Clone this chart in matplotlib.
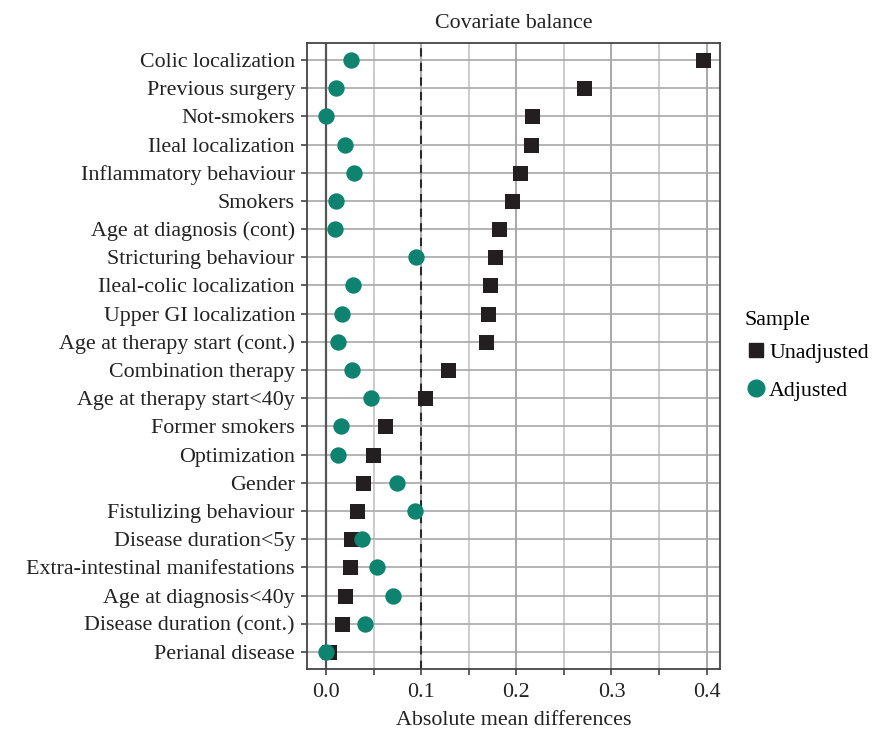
import matplotlib
matplotlib.use("Agg")
import matplotlib.pyplot as plt
import numpy as np
from matplotlib.lines import Line2D

covariates = [
    "Colic localization", "Previous surgery", "Not-smokers", "Ileal localization",
    "Inflammatory behaviour", "Smokers", "Age at diagnosis (cont)", "Stricturing behaviour",
    "Ileal-colic localization", "Upper GI localization", "Age at therapy start (cont.)",
    "Combination therapy", "Age at therapy start<40y", "Former smokers", "Optimization",
    "Gender", "Fistulizing behaviour", "Disease duration<5y",
    "Extra-intestinal manifestations", "Age at diagnosis<40y", "Disease duration (cont.)",
    "Perianal disease",
]
unadjusted = [0.396, 0.271, 0.217, 0.215, 0.204, 0.195, 0.182, 0.178, 0.172, 0.170,
              0.168, 0.128, 0.104, 0.062, 0.049, 0.0385, 0.033, 0.026, 0.025, 0.0196,
              0.0165, 0.0035]
adjusted = [0.026, 0.011, 0.0, 0.020, 0.029, 0.011, 0.010, 0.0945, 0.0287, 0.0168,
            0.0123, 0.0277, 0.0476, 0.0161, 0.0126, 0.075, 0.094, 0.0375, 0.054, 0.070,
            0.041, 0.0]
major_ticks = [0.0, 0.1, 0.2, 0.3, 0.4]
tick_labels = ["0.0", "0.1", "0.2", "0.3", "0.4"]
threshold = 0.1

plt.rcParams['font.family'] = ['Liberation Serif', 'DejaVu Serif']
FS = 15.8
TXT = "#222222"

fig = plt.figure(figsize=(8.72, 7.30), dpi=100)
ax = fig.add_axes([0.3526, 0.0836, 0.8257 - 0.3526, 0.9411 - 0.0836])

n = len(covariates)
ypos = np.arange(n)[::-1]

sq_col = "#231f20"
ci_col = "#0e8470"

# grid
minor = np.arange(0.05, 0.45, 0.1)
for x in minor:
    ax.axvline(x, color="#c4c4c4", lw=1.2, zorder=0)
for x in major_ticks[1:]:
    ax.axvline(x, color="#9a9a9a", lw=1.2, zorder=0)
for y in ypos:
    ax.axhline(y, color="#a8a8a8", lw=1.2, zorder=0)
ax.axvline(0, color="#555555", lw=1.6, zorder=1)
ax.axvline(threshold, color="#2a2a2a", lw=1.5, ls=(0, (4, 3)), zorder=1)

ax.scatter(unadjusted, ypos, marker='s', s=10.8**2, color=sq_col, zorder=3, linewidths=0)
ax.scatter(adjusted, ypos, marker='o', s=11.8**2, color=ci_col, zorder=4, linewidths=0)

ax.set_xlim(-0.0194, 0.414)
ax.set_ylim(-0.6, n - 1 + 0.6)
ax.set_yticks(ypos)
ax.set_yticklabels(covariates, fontsize=FS, color=TXT)
xt = np.round(np.arange(0, 0.45, 0.05), 2)
ax.set_xticks(xt)
ax.set_xticklabels([tick_labels[i // 2] if i % 2 == 0 else "" for i in range(len(xt))],
                   fontsize=FS, color=TXT)
ax.tick_params(axis='both', length=4, width=1.2, color="#444444")
ax.tick_params(axis='y', pad=5)
ax.tick_params(axis='x', pad=6)
for s in ax.spines.values():
    s.set_color("#444444")
    s.set_linewidth(1.3)

ax.set_xlabel("Absolute mean differences", fontsize=FS, color=TXT, labelpad=6.5)
ax.set_title("Covariate balance", fontsize=FS, color=TXT, pad=10.5)

handles = [
    Line2D([], [], marker='s', ls='', color=sq_col, markersize=10.2),
    Line2D([], [], marker='o', ls='', color=ci_col, markersize=12),
]
leg = fig.legend(handles, ["Unadjusted", "Adjusted"], title="Sample",
                 loc='upper left', bbox_to_anchor=(0.854, 0.574), frameon=False,
                 fontsize=FS, title_fontsize=FS, handletextpad=0.12,
                 labelspacing=0.8, handlelength=1.0, borderaxespad=0, borderpad=0)
leg._legend_box.align = "left"
leg._legend_box.sep = 9

fig.savefig("out.png", dpi=100)
